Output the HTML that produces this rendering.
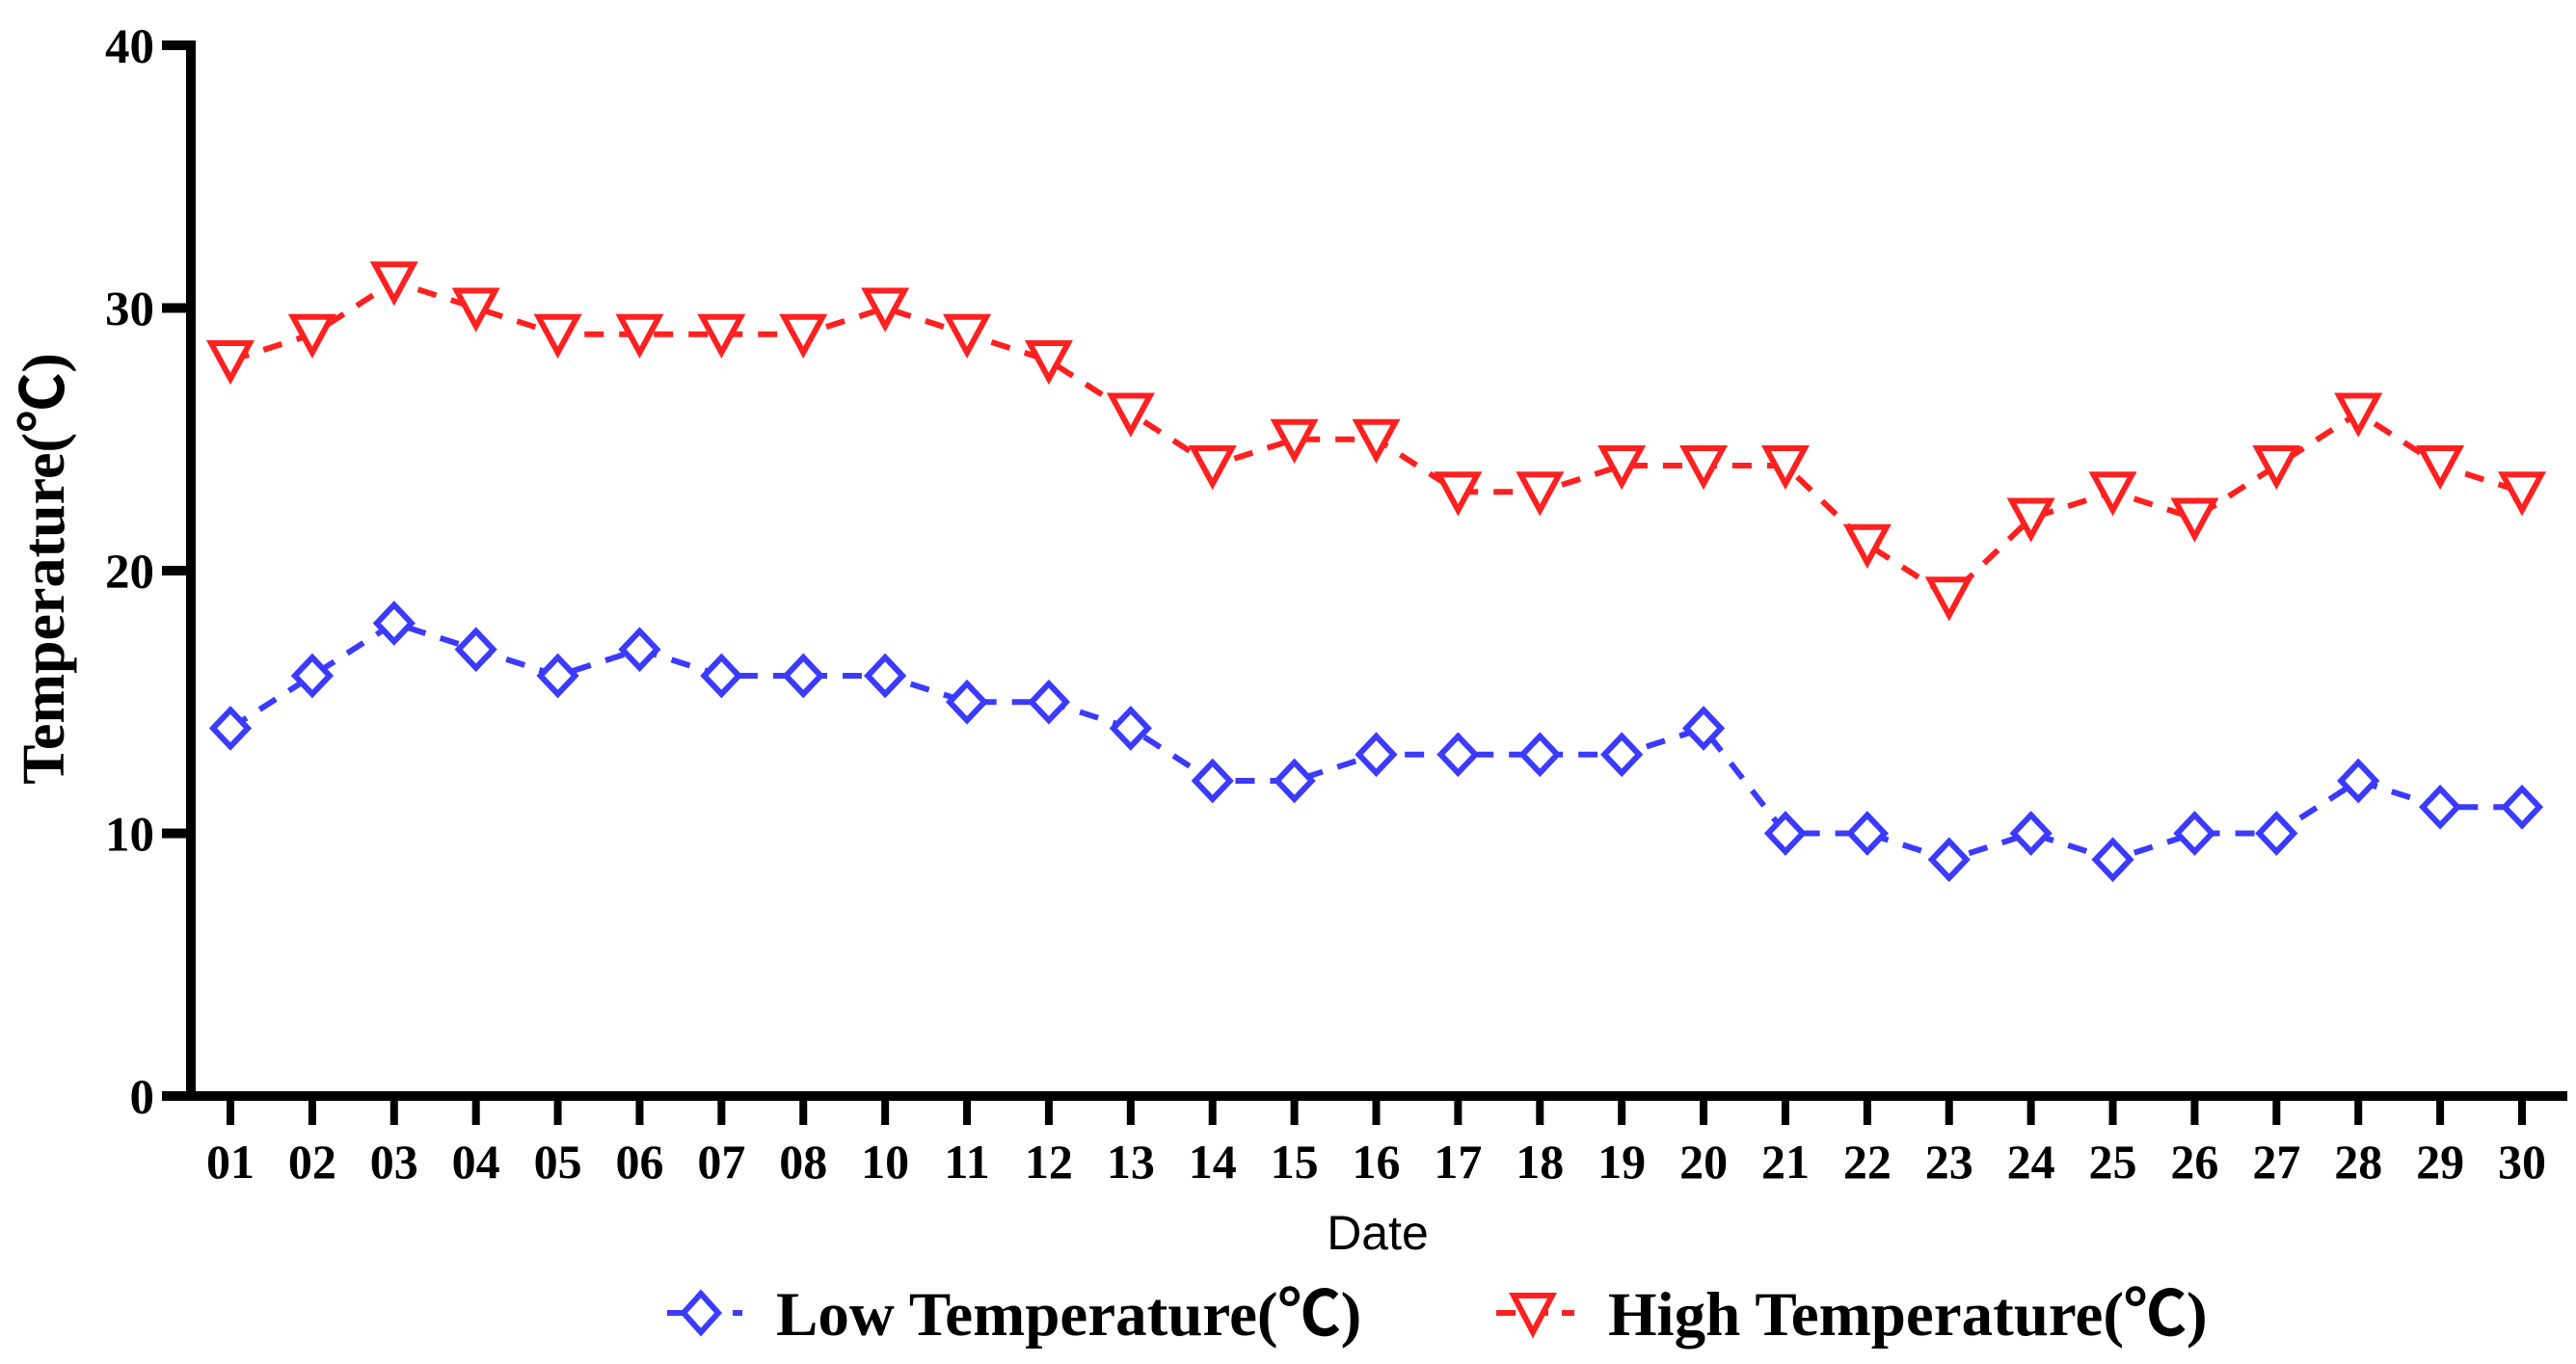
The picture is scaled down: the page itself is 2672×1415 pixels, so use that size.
<!DOCTYPE html>
<html><head><meta charset="utf-8"><style>
html,body{margin:0;padding:0;background:#fff;}
svg{display:block;}
</style></head><body>
<svg id="chart" width="2672" height="1415" viewBox="0 0 2672 1415" xmlns="http://www.w3.org/2000/svg">
<g id="axes"></g>
<g id="series"></g>
<text transform="translate(66,590) rotate(-90)" text-anchor="middle" font-family="'Liberation Serif','Noto Sans CJK SC',serif" font-weight="bold" font-size="62">Temperature(℃)</text>
<text x="1429" y="1296" text-anchor="middle" font-family="'Liberation Sans',sans-serif" font-size="50">Date</text>
<g>
 <g>
  <line x1="692" y1="1362" x2="770" y2="1362" stroke="#3b3bff" stroke-width="6" stroke-dasharray="20,14"/>
  <path d="M727,1342 L745,1362 L727,1382 L709,1362 Z" fill="#fff" stroke="#3b3bff" stroke-width="6"/>
  <text x="805" y="1385" font-family="'Liberation Serif','Noto Sans CJK SC',serif" font-weight="bold" font-size="65">Low Temperature(℃)</text>
 </g>
 <g>
  <line x1="1552" y1="1362" x2="1633" y2="1362" stroke="#ff2020" stroke-width="6" stroke-dasharray="20,14"/>
  <path d="M1570,1344 L1610,1344 L1590,1382 Z" fill="#fff" stroke="#ff2020" stroke-width="6"/>
  <text x="1668" y="1385" font-family="'Liberation Serif','Noto Sans CJK SC',serif" font-weight="bold" font-size="65">High Temperature(℃)</text>
 </g>
</g>
</svg>
<script>
const categories = ["01","02","03","04","05","06","07","08","10","11","12","13","14","15","16","17","18","19","20","21","22","23","24","25","26","27","28","29","30"];
const lowValues = [14,16,18,17,16,17,16,16,16,15,15,14,12,12,13,13,13,13,14,10,10,9,10,9,10,10,12,11,11];
const highValues = [28,29,31,30,29,29,29,29,30,29,28,26,24,25,25,23,23,24,24,24,21,19,22,23,22,24,26,24,23];
const yTicks = [0,10,20,30,40];

const NS = "http://www.w3.org/2000/svg";
const X0 = 239, X1 = 2616, Y0 = 1137, Y40 = 47;
function xScale(i){ return X0 + i*(X1-X0)/(categories.length-1); }
function yScale(v){ return Y0 - v*(Y0-Y40)/40; }
function mk(tag, attrs, parent){ const e=document.createElementNS(NS,tag); for(const k in attrs) e.setAttribute(k,attrs[k]); parent.appendChild(e); return e; }

const axes = document.getElementById('axes');
const ya = mk('line',{x1:198,y1:Y40-5,x2:198,y2:Y0+5,stroke:'#000','stroke-width':10},axes);


const xa = mk('line',{x1:193,y1:Y0,x2:2663,y2:Y0,stroke:'#000','stroke-width':10},axes);


yTicks.forEach(v=>{
  const t = mk('line',{x1:168,y1:yScale(v),x2:198,y2:yScale(v),stroke:'#000','stroke-width':10},axes);
  
  
  const l = mk('text',{x:160,y:yScale(v)+18,'text-anchor':'end','font-family':"'Liberation Serif',serif",'font-weight':'bold','font-size':51},axes);
  l.textContent = v;
  
  
});
categories.forEach((c,i)=>{
  const t = mk('line',{x1:xScale(i),y1:Y0,x2:xScale(i),y2:Y0+30,stroke:'#000','stroke-width':8},axes);
  
  
  const l = mk('text',{x:xScale(i),y:1222,'text-anchor':'middle','font-family':"'Liberation Serif',serif",'font-weight':'bold','font-size':50},axes);
  l.textContent = c;
  
  
});

const series = document.getElementById('series');
function drawSeries(vals, color, kind){
  const g = mk('g',{},series);
  
  
  const pts = vals.map((v,i)=>xScale(i)+','+yScale(v)).join(' ');
  const pl = mk('polyline',{points:pts,fill:'none',stroke:color,'stroke-width':6,'stroke-dasharray':'20,16'},g);
  
  
  vals.forEach((v,i)=>{
    const x=xScale(i), y=yScale(v);
    let d;
    if(kind==='diamond') d=`M${x},${y-19} L${x+18},${y} L${x},${y+19} L${x-18},${y} Z`;
    else d=`M${x-20},${y-18} L${x+20},${y-18} L${x},${y+19} Z`;
    const m = mk('path',{d:d,fill:'#fff',stroke:color,'stroke-width':6},g);
    
    
  });
}
drawSeries(highValues,'#ff2020','triangle');
drawSeries(lowValues,'#3b3bff','diamond');
</script>
</body></html>
